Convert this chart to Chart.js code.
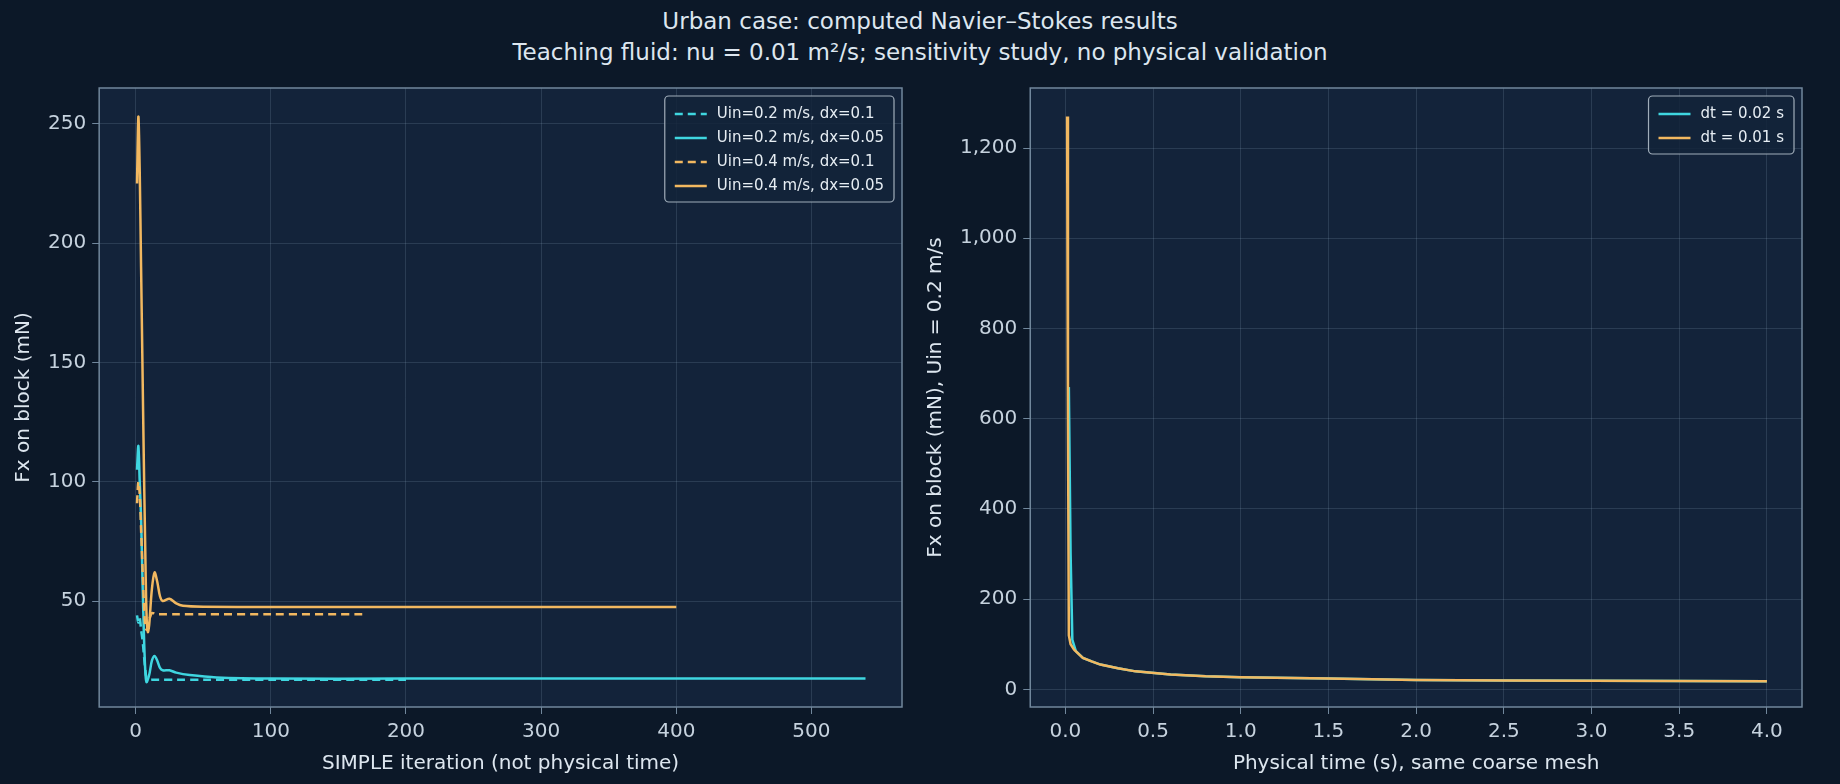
<!DOCTYPE html>
<html>
<head>
<meta charset="utf-8">
<script src="https://cdn.jsdelivr.net/npm/chart.js@4/dist/chart.umd.min.js"></script>
<style>
  html, body { margin: 0; padding: 0; background: #0c1828; }
  body { width: 1840px; height: 784px; position: relative; overflow: hidden; font-family: "DejaVu Sans", sans-serif; }
  .title { position: absolute; left: 0; width: 1840px; text-align: center; color: #dde6ef; font-size: 23px; line-height: 31px; top: 6px; }
  .box { position: absolute; top: 70px; height: 714px; }
</style>
</head>
<body>
<div class="title">Urban case: computed Navier–Stokes results<br>Teaching fluid: nu = 0.01 m²/s; sensitivity study, no physical validation</div>
<div class="box" style="left:0;width:920px"><canvas id="left"></canvas></div>
<div class="box" style="left:920px;width:920px"><canvas id="right"></canvas></div>
<script>
// left panel: SIMPLE iterations
const itA = [1, 2, 3, 4, 5, 6, 7, 8, 10, 12, 15, 20, 30, 50, 100, 200];
const fxA = [44, 41, 43, 38, 34, 28, 22, 18, 17, 17, 17, 17, 17, 17, 17, 17];
const itB = [1, 2, 3, 4, 5, 6, 7, 8, 10, 12, 14, 16, 18, 20, 25, 30, 40, 60, 100, 200, 540];
const fxB = [105, 115, 100, 85, 60, 38, 22, 16, 19, 25, 27, 25, 22, 21, 21, 20, 19, 18, 17.5, 17.5, 17.5];
const itC = [1, 2, 3, 4, 5, 6, 7, 8, 10, 12, 15, 20, 30, 50, 100, 170];
const fxC = [91, 100, 95, 80, 65, 50, 40, 38, 42, 45, 44.5, 44.5, 44.5, 44.5, 44.5, 44.5];
const itD = [1, 2, 3, 4, 5, 6, 7, 8, 9, 10, 12, 14, 16, 18, 20, 25, 30, 35, 50, 100, 200, 400];
const fxD = [225, 253, 230, 190, 150, 110, 75, 45, 37, 40, 55, 62, 58, 52, 50, 51, 49, 48, 47.6, 47.5, 47.5, 47.5];
const leftXTicks = [0, 100, 200, 300, 400, 500];
const leftYTicks = [50, 100, 150, 200, 250];
// right panel: physical time
const tE = [0.02, 0.03, 0.04, 0.06, 0.1, 0.15, 0.2, 0.3, 0.4, 0.6, 0.8, 1.0, 1.5, 2.0, 2.5, 3.0, 3.5, 4.0];
const fxE = [670, 300, 110, 85, 70, 62, 55, 47, 40, 33, 29, 27, 24, 21, 20, 19, 18.5, 18];
const tF = [0.01, 0.015, 0.02, 0.03, 0.05, 0.1, 0.15, 0.2, 0.3, 0.4, 0.6, 0.8, 1.0, 1.5, 2.0, 2.5, 3.0, 3.5, 4.0];
const fxF = [1270, 600, 120, 100, 88, 70, 62, 55, 47, 40, 33, 29, 27, 24, 21, 20, 19, 18.5, 18];
const rightXTicks = [0, 0.5, 1.0, 1.5, 2.0, 2.5, 3.0, 3.5, 4.0];
const rightYTicks = [0, 200, 400, 600, 800, 1000, 1200];

const CYAN = '#3fd6e0', ORANGE = '#f2b860';
const TXT = '#c6d2de', GRID = 'rgba(150,175,200,0.18)', FRAME = '#71879c';
const FONT = '"DejaVu Sans", sans-serif';
const pts = (xs, ys) => xs.map((x, i) => ({ x, y: ys[i] }));

const framePlugin = {
  id: 'frame',
  beforeDraw(c) {
    const a = c.chartArea, ctx = c.ctx;
    ctx.save(); ctx.fillStyle = '#13233a'; ctx.fillRect(a.left, a.top, a.right - a.left, a.bottom - a.top); ctx.restore();
  },
  afterDraw(c) {
    const a = c.chartArea, ctx = c.ctx;
    ctx.save(); ctx.strokeStyle = FRAME; ctx.lineWidth = 1.5;
    ctx.strokeRect(a.left, a.top, a.right - a.left, a.bottom - a.top);
    // legend inside, top-right
    const ds = c.data.datasets;
    ctx.font = '15px ' + FONT;
    const w = Math.max(...ds.map(d => ctx.measureText(d.label).width)) + 62;
    const lh = 24, h = ds.length * lh + 10;
    const x0 = a.right - w - 8, y0 = a.top + 8;
    ctx.fillStyle = 'rgba(19,35,58,0.85)'; ctx.strokeStyle = '#a0adba'; ctx.lineWidth = 1.2;
    ctx.beginPath(); ctx.roundRect(x0, y0, w, h, 4); ctx.fill(); ctx.stroke();
    ds.forEach((d, i) => {
      const y = y0 + 6 + lh * i + lh / 2;
      ctx.strokeStyle = d.borderColor; ctx.lineWidth = 2.5;
      ctx.setLineDash(d.borderDash || []);
      ctx.beginPath(); ctx.moveTo(x0 + 10, y); ctx.lineTo(x0 + 42, y); ctx.stroke();
      ctx.setLineDash([]);
      ctx.fillStyle = '#e6edf3'; ctx.textBaseline = 'middle';
      ctx.fillText(d.label, x0 + 52, y);
    });
    ctx.restore();
  }
};

function opts(xmin, xmax, xticks, ymin, ymax, yticks, xt, yt, pad, dec) {
  const tick = { color: TXT, font: { size: 20, family: FONT }, padding: 6, autoSkip: false, maxRotation: 0 };
  return {
    responsive: true, maintainAspectRatio: false, animation: false,
    layout: { padding: pad },
    plugins: { legend: { display: false }, tooltip: { enabled: false } },
    elements: { point: { radius: 0 }, line: { borderWidth: 2.5, tension: 0.3 } },
    scales: {
      x: { type: 'linear', min: xmin, max: xmax, grid: { color: GRID, tickColor: FRAME, tickLength: 7 }, border: { display: false },
        ticks: { ...tick, callback: v => (dec ? v.toFixed(1) : v) },
        afterBuildTicks: s => { s.ticks = xticks.map(v => ({ value: v })); },
        title: { display: true, text: xt, color: '#dde6ef', font: { size: 20, family: FONT }, padding: { top: 2 } } },
      y: { type: 'linear', min: ymin, max: ymax, grid: { color: GRID, tickColor: FRAME, tickLength: 7 }, border: { display: false },
        ticks: tick,
        afterBuildTicks: s => { s.ticks = yticks.map(v => ({ value: v })); },
        title: { display: true, text: yt, color: '#dde6ef', font: { size: 20, family: FONT }, padding: { bottom: 6 } } }
    }
  };
}

new Chart(document.getElementById('left'), {
  type: 'line',
  data: { datasets: [
    { label: 'Uin=0.2 m/s, dx=0.1', data: pts(itA, fxA), borderColor: CYAN, borderDash: [8, 5], order: 4 },
    { label: 'Uin=0.2 m/s, dx=0.05', data: pts(itB, fxB), borderColor: CYAN, order: 3 },
    { label: 'Uin=0.4 m/s, dx=0.1', data: pts(itC, fxC), borderColor: ORANGE, borderDash: [8, 5], order: 2 },
    { label: 'Uin=0.4 m/s, dx=0.05', data: pts(itD, fxD), borderColor: ORANGE, order: 1 }
  ] },
  options: opts(-27, 567, leftXTicks, 5.6, 265, leftYTicks, 'SIMPLE iteration (not physical time)', 'Fx on block (mN)', { left: 8, right: 18, top: 14, bottom: 4 }, false),
  plugins: [framePlugin]
});

new Chart(document.getElementById('right'), {
  type: 'line',
  data: { datasets: [
    { label: 'dt = 0.02 s', data: pts(tE, fxE), borderColor: CYAN, tension: 0, order: 2 },
    { label: 'dt = 0.01 s', data: pts(tF, fxF), borderColor: ORANGE, tension: 0, order: 1 }
  ] },
  options: opts(-0.2, 4.2, rightXTicks, -39, 1333, rightYTicks, 'Physical time (s), same coarse mesh', 'Fx on block (mN), Uin = 0.2 m/s', { left: 0, right: 38, top: 14, bottom: 4 }, true),
  plugins: [framePlugin]
});
</script>
</body>
</html>
